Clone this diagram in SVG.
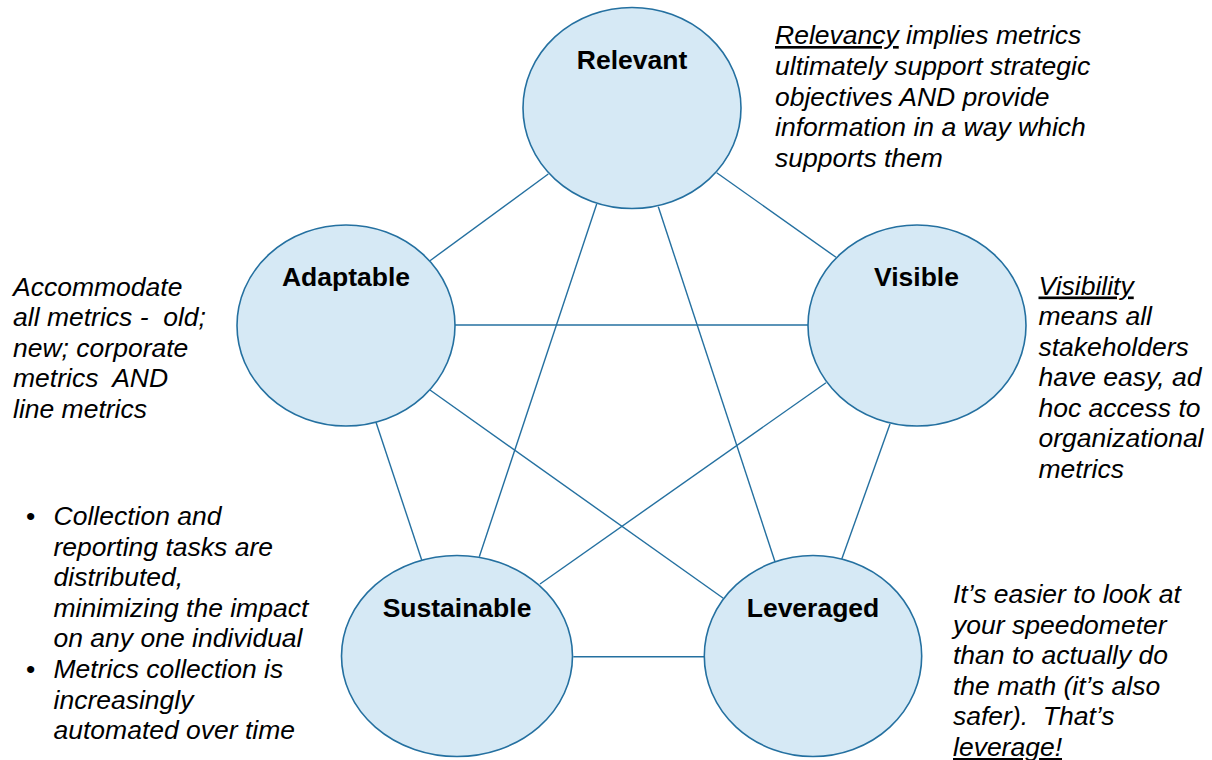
<svg xmlns="http://www.w3.org/2000/svg" width="1212" height="760" viewBox="0 0 1212 760">
<style>
.node ellipse{fill:#d6e9f5;stroke:#2470a0;stroke-width:1.6}
.lbl{font-family:"Liberation Sans",Arial,sans-serif;font-weight:bold;font-size:26.5px;fill:#000;text-anchor:middle}
.desc{font-family:"Liberation Sans",Arial,sans-serif;font-style:italic;font-size:26.5px;fill:#000}
.u{text-decoration:underline}
#connectors line{stroke:#2470a0;stroke-width:1.4}
</style>
<rect width="1212" height="760" fill="#fff"/>
<g id="connectors">
<line x1="548.3" y1="174" x2="430" y2="260.7"/>
<line x1="716.7" y1="172.7" x2="836" y2="257.3"/>
<line x1="596.7" y1="204" x2="479.3" y2="556.7"/>
<line x1="658.3" y1="206.7" x2="775" y2="561.7"/>
<line x1="455" y1="325" x2="808" y2="325"/>
<line x1="430" y1="390" x2="723.3" y2="598.3"/>
<line x1="376" y1="422.3" x2="421.7" y2="560"/>
<line x1="826" y1="382.7" x2="540" y2="584"/>
<line x1="890" y1="424" x2="841.7" y2="559.3"/>
<line x1="573.3" y1="656.7" x2="704.3" y2="656.7"/>
</g>
<g id="relevant" class="node"><ellipse cx="632" cy="108" rx="109" ry="100.5"/><text class="lbl" x="632" y="68.5">Relevant</text></g>
<g id="adaptable" class="node"><ellipse cx="346" cy="325.5" rx="109" ry="100.5"/><text class="lbl" x="346" y="286">Adaptable</text></g>
<g id="visible" class="node"><ellipse cx="917" cy="325.5" rx="109" ry="100.5"/><text class="lbl" x="916.5" y="286">Visible</text></g>
<g id="sustainable" class="node"><ellipse cx="457" cy="656" rx="115.5" ry="100.5"/><text class="lbl" x="457" y="617">Sustainable</text></g>
<g id="leveraged" class="node"><ellipse cx="813" cy="656" rx="108.7" ry="100.5"/><text class="lbl" x="813" y="617">Leveraged</text></g>
<g id="relevant-desc" class="desc">
<text class="desc" x="775" y="44"><tspan class="u">Relevancy</tspan> implies metrics</text>
<text class="desc" x="775" y="74.8">ultimately support strategic</text>
<text class="desc" x="775" y="105.6">objectives AND provide</text>
<text class="desc" x="775" y="136.4">information in a way which</text>
<text class="desc" x="775" y="167.2">supports them</text>
</g>
<g id="adaptable-desc">
<text class="desc" x="13" y="295.5">Accommodate</text>
<text class="desc" x="13" y="326" xml:space="preserve">all metrics -  old;</text>
<text class="desc" x="13" y="356.5">new; corporate</text>
<text class="desc" x="13" y="387" xml:space="preserve">metrics  AND</text>
<text class="desc" x="13" y="417.5">line metrics</text>
</g>
<g id="visible-desc">
<text class="desc u" x="1038.5" y="294.5">Visibility</text>
<text class="desc" x="1038.5" y="325">means all</text>
<text class="desc" x="1038.5" y="355.5">stakeholders</text>
<text class="desc" x="1038.5" y="386">have easy, ad</text>
<text class="desc" x="1038.5" y="416.5">hoc access to</text>
<text class="desc" x="1038.5" y="447">organizational</text>
<text class="desc" x="1038.5" y="477.5">metrics</text>
</g>
<g id="sustainable-desc">
<text class="desc" x="26" y="525" style="font-style:normal">•</text>
<text class="desc" x="53.5" y="525">Collection and</text>
<text class="desc" x="53.5" y="555.6">reporting tasks are</text>
<text class="desc" x="53.5" y="586.2">distributed,</text>
<text class="desc" x="53.5" y="616.8">minimizing the impact</text>
<text class="desc" x="53.5" y="647.4">on any one individual</text>
<text class="desc" x="26" y="678" style="font-style:normal">•</text>
<text class="desc" x="53.5" y="678">Metrics collection is</text>
<text class="desc" x="53.5" y="708.6">increasingly</text>
<text class="desc" x="53.5" y="739.2">automated over time</text>
</g>
<g id="leveraged-desc">
<text class="desc" x="953" y="603">It’s easier to look at</text>
<text class="desc" x="953" y="633.6">your speedometer</text>
<text class="desc" x="953" y="664.2">than to actually do</text>
<text class="desc" x="953" y="694.8">the math (it’s also</text>
<text class="desc" x="953" y="725.4" xml:space="preserve">safer).  That’s</text>
<text class="desc u" x="953" y="756">leverage!</text>
</g>
</svg>
